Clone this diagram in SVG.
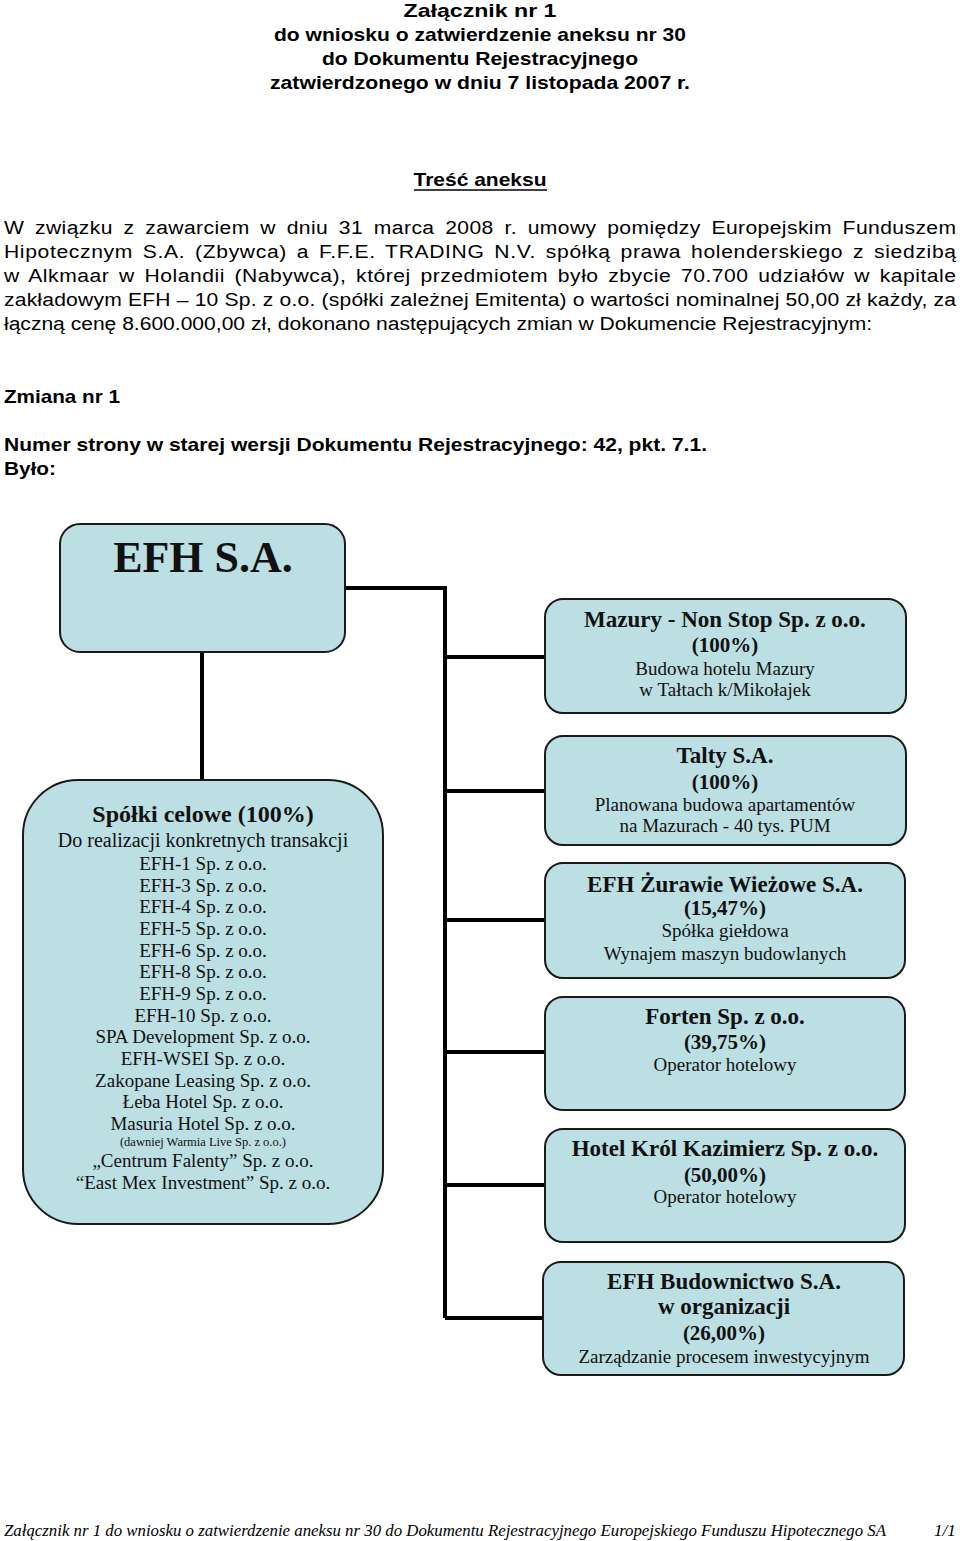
<svg xmlns="http://www.w3.org/2000/svg" width="960" height="1541" viewBox="0 0 960 1541">
<style>
.hd{font-family:"Liberation Sans",Arial,sans-serif;font-size:19px;font-weight:bold;fill:#000}
.bd{font-family:"Liberation Sans",Arial,sans-serif;font-size:19px;fill:#000}
.box{fill:#bbdfe3;stroke:#1a1a1a;stroke-width:2}
.t{font-family:"Liberation Serif","Times New Roman",serif;font-size:23px;font-weight:bold;fill:#111;text-anchor:middle}
.p{font-family:"Liberation Serif","Times New Roman",serif;font-size:21px;font-weight:bold;fill:#111;text-anchor:middle}
.d{font-family:"Liberation Serif","Times New Roman",serif;font-size:19px;fill:#111;text-anchor:middle}
.s{font-family:"Liberation Serif","Times New Roman",serif;font-size:12.5px;fill:#111;text-anchor:middle}
.ft{font-family:"Liberation Serif","Times New Roman",serif;font-size:17px;font-style:italic;fill:#000}
.con{fill:none;stroke:#000;stroke-width:4}
</style>
<rect width="960" height="1541" fill="#fff"/>
<g id="header">
<text class="hd" x="480" y="17" text-anchor="middle" textLength="153" lengthAdjust="spacingAndGlyphs">Załącznik nr 1</text>
<text class="hd" x="480" y="41" text-anchor="middle" textLength="412" lengthAdjust="spacingAndGlyphs">do wniosku o zatwierdzenie aneksu nr 30</text>
<text class="hd" x="480" y="65" text-anchor="middle" textLength="316" lengthAdjust="spacingAndGlyphs">do Dokumentu Rejestracyjnego</text>
<text class="hd" x="480" y="89" text-anchor="middle" textLength="420" lengthAdjust="spacingAndGlyphs">zatwierdzonego w dniu 7 listopada 2007 r.</text>
<text class="hd" x="480" y="186" text-anchor="middle" textLength="133" lengthAdjust="spacingAndGlyphs">Treść aneksu</text>
<line x1="414" y1="190" x2="547" y2="190" stroke="#000" stroke-width="1.5"/>
</g>
<g id="body">
<g transform="scale(1.11,1)">
<text class="bd" x="3.6" y="234" textLength="857.7" lengthAdjust="spacing" style="word-spacing:4px">W związku z zawarciem w dniu 31 marca 2008 r. umowy pomiędzy Europejskim Funduszem</text>
<text class="bd" x="3.6" y="258" textLength="857.7" lengthAdjust="spacing" style="word-spacing:3px">Hipotecznym S.A. (Zbywca) a F.F.E. TRADING N.V. spółką prawa holenderskiego z siedzibą</text>
<text class="bd" x="3.6" y="282" textLength="857.7" lengthAdjust="spacing" style="word-spacing:3px">w Alkmaar w Holandii (Nabywca), której przedmiotem było zbycie 70.700 udziałów w kapitale</text>
<text class="bd" x="3.6" y="306" textLength="857.7" lengthAdjust="spacing">zakładowym EFH – 10 Sp. z o.o. (spółki zależnej Emitenta) o wartości nominalnej 50,00 zł każdy, za</text>
<text class="bd" x="3.6" y="330" textLength="782" lengthAdjust="spacingAndGlyphs">łączną cenę 8.600.000,00 zł, dokonano następujących zmian w Dokumencie Rejestracyjnym:</text>
</g>
<text class="hd" x="4" y="403" textLength="116" lengthAdjust="spacingAndGlyphs">Zmiana nr 1</text>
<text class="hd" x="4" y="451" textLength="703" lengthAdjust="spacingAndGlyphs">Numer strony w starej wersji Dokumentu Rejestracyjnego: 42, pkt. 7.1.</text>
<text class="hd" x="4" y="475" textLength="52" lengthAdjust="spacingAndGlyphs">Było:</text>
</g>
<g id="connectors">
<path class="con" d="M345 588 H445 V1318"/>
<path class="con" d="M445 657 H545 M445 791 H545 M445 920 H545 M445 1052 H545 M445 1185 H545 M445 1318 H543"/>
<path class="con" d="M202 652 V780"/>
</g>
<g id="efh">
<rect class="box" x="60" y="524" width="285" height="128" rx="20"/>
<text class="t" x="203" y="572" style="font-size:44px">EFH S.A.</text>
</g>
<g id="spolki">
<rect class="box" x="23" y="780" width="360" height="444" rx="55"/>
<text class="t" x="203" y="822" style="font-size:24px">Spółki celowe (100%)</text>
<text class="d" x="203" y="847" style="font-size:20px">Do realizacji konkretnych transakcji</text>
<text class="d" x="203" y="870">EFH-1 Sp. z o.o.</text>
<text class="d" x="203" y="892">EFH-3 Sp. z o.o.</text>
<text class="d" x="203" y="913">EFH-4 Sp. z o.o.</text>
<text class="d" x="203" y="935">EFH-5 Sp. z o.o.</text>
<text class="d" x="203" y="957">EFH-6 Sp. z o.o.</text>
<text class="d" x="203" y="978">EFH-8 Sp. z o.o.</text>
<text class="d" x="203" y="1000">EFH-9 Sp. z o.o.</text>
<text class="d" x="203" y="1022">EFH-10 Sp. z o.o.</text>
<text class="d" x="203" y="1043">SPA Development Sp. z o.o.</text>
<text class="d" x="203" y="1065">EFH-WSEI Sp. z o.o.</text>
<text class="d" x="203" y="1087">Zakopane Leasing Sp. z o.o.</text>
<text class="d" x="203" y="1108">Łeba Hotel Sp. z o.o.</text>
<text class="d" x="203" y="1130">Masuria Hotel Sp. z o.o.</text>
<text class="s" x="203" y="1146">(dawniej Warmia Live Sp. z o.o.)</text>
<text class="d" x="203" y="1167">„Centrum Falenty” Sp. z o.o.</text>
<text class="d" x="203" y="1189">“East Mex Investment” Sp. z o.o.</text>
</g>
<g id="mazury">
<rect class="box" x="545" y="599" width="361" height="114" rx="18"/>
<text class="t" x="725" y="627">Mazury - Non Stop Sp. z o.o.</text>
<text class="p" x="725" y="652">(100%)</text>
<text class="d" x="725" y="675">Budowa hotelu Mazury</text>
<text class="d" x="725" y="696">w Tałtach k/Mikołajek</text>
</g>
<g id="talty">
<rect class="box" x="545" y="736" width="361" height="109" rx="18"/>
<text class="t" x="725" y="763">Talty S.A.</text>
<text class="p" x="725" y="789">(100%)</text>
<text class="d" x="725" y="811">Planowana budowa apartamentów</text>
<text class="d" x="725" y="832">na Mazurach - 40 tys. PUM</text>
</g>
<g id="zurawie">
<rect class="box" x="545" y="863" width="360" height="115" rx="18"/>
<text class="t" x="725" y="892">EFH Żurawie Wieżowe S.A.</text>
<text class="p" x="725" y="915">(15,47%)</text>
<text class="d" x="725" y="937">Spółka giełdowa</text>
<text class="d" x="725" y="960">Wynajem maszyn budowlanych</text>
</g>
<g id="forten">
<rect class="box" x="545" y="997" width="360" height="113" rx="18"/>
<text class="t" x="725" y="1024">Forten Sp. z o.o.</text>
<text class="p" x="725" y="1049">(39,75%)</text>
<text class="d" x="725" y="1071">Operator hotelowy</text>
</g>
<g id="krol">
<rect class="box" x="545" y="1129" width="360" height="113" rx="18"/>
<text class="t" x="725" y="1156">Hotel Król Kazimierz Sp. z o.o.</text>
<text class="p" x="725" y="1182">(50,00%)</text>
<text class="d" x="725" y="1203">Operator hotelowy</text>
</g>
<g id="budownictwo">
<rect class="box" x="543" y="1262" width="361" height="113" rx="18"/>
<text class="t" x="724" y="1289">EFH Budownictwo S.A.</text>
<text class="t" x="724" y="1314">w organizacji</text>
<text class="p" x="724" y="1340">(26,00%)</text>
<text class="d" x="724" y="1363">Zarządzanie procesem inwestycyjnym</text>
</g>
<g id="footer">
<text class="ft" x="4" y="1536" textLength="882" lengthAdjust="spacingAndGlyphs">Załącznik nr 1 do wniosku o zatwierdzenie aneksu nr 30 do Dokumentu Rejestracyjnego Europejskiego Funduszu Hipotecznego SA</text>
<text class="ft" x="934" y="1536">1/1</text>
</g>
</svg>
